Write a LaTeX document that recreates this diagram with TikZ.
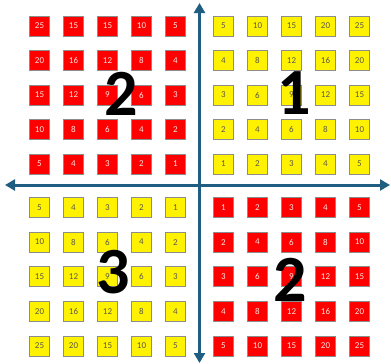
\documentclass[tikz,border=0pt]{standalone}
\usepackage{fontspec}
\setmainfont{Carlito}
\usetikzlibrary{arrows.meta}
\definecolor{axisblue}{RGB}{31,94,128}
\definecolor{boxborder}{RGB}{140,140,140}
\definecolor{redtext}{RGB}{255,225,225}
\definecolor{yeltext}{RGB}{90,90,70}
\tikzset{
  cell/.style={draw=boxborder, line width=0.8pt, minimum width=20pt, minimum height=20pt, inner sep=0pt, font=\fontsize{9}{9}\selectfont},
  redcell/.style={cell, fill=red, text=redtext},
  yelcell/.style={cell, fill=yellow, text=yeltext},
  bigdigit/.style={inner sep=0pt, font=\fontsize{66}{66}\selectfont\bfseries, text=black},
  axis/.style={draw=axisblue, line width=3pt, -{Triangle[width=11pt,length=10pt]}}
}
\begin{document}
\begin{tikzpicture}[x=1pt,y=-1pt]
\useasboundingbox (0,0) rectangle (391,364);
% top-left (red)
\foreach \vals [count=\r] in {{25,15,15,10,5},{20,16,12,8,4},{15,12,9,6,3},{10,8,6,4,2},{5,4,3,2,1}}{
  \foreach \v [count=\c] in \vals {
    \node[redcell] (tl-\r-\c) at ({39.5+34*(\c-1)},{26+34.5*(\r-1)}) {\v};
  }
}
% top-right (yellow)
\foreach \vals [count=\r] in {{5,10,15,20,25},{4,8,12,16,20},{3,6,9,12,15},{2,4,6,8,10},{1,2,3,4,5}}{
  \foreach \v [count=\c] in \vals {
    \node[yelcell] (tr-\r-\c) at ({223.5+34*(\c-1)},{26+34.5*(\r-1)}) {\v};
  }
}
% bottom-left (yellow)
\foreach \vals [count=\r] in {{5,4,3,2,1},{10,8,6,4,2},{15,12,9,6,3},{20,16,12,8,4},{25,20,15,10,5}}{
  \foreach \v [count=\c] in \vals {
    \node[yelcell] (bl-\r-\c) at ({39.5+34*(\c-1)},{207.5+34.6*(\r-1)}) {\v};
  }
}
% bottom-right (red)
\foreach \vals [count=\r] in {{1,2,3,4,5},{2,4,6,8,10},{3,6,9,12,15},{4,8,12,16,20},{5,10,15,20,25}}{
  \foreach \v [count=\c] in \vals {
    \node[redcell] (br-\r-\c) at ({223.5+34*(\c-1)},{207.5+34.6*(\r-1)}) {\v};
  }
}
% axes
\coordinate (origin) at (199.5,185);
\coordinate (top) at (199.5,3);
\coordinate (bottom) at (199.5,363);
\coordinate (left) at (5,185);
\coordinate (right) at (390,185);
\draw[axis] (origin) -- (top);
\draw[axis] (origin) -- (bottom);
\draw[axis] (origin) -- (left);
\draw[axis] (origin) -- (right);
% big labels
\node[bigdigit] (q2a) at (121,94) {2};
\node[bigdigit] (q1) at (294,93) {1};
\node[bigdigit] (q3) at (113,272) {3};
\node[bigdigit] (q2b) at (290,280) {2};
\end{tikzpicture}
\end{document}
